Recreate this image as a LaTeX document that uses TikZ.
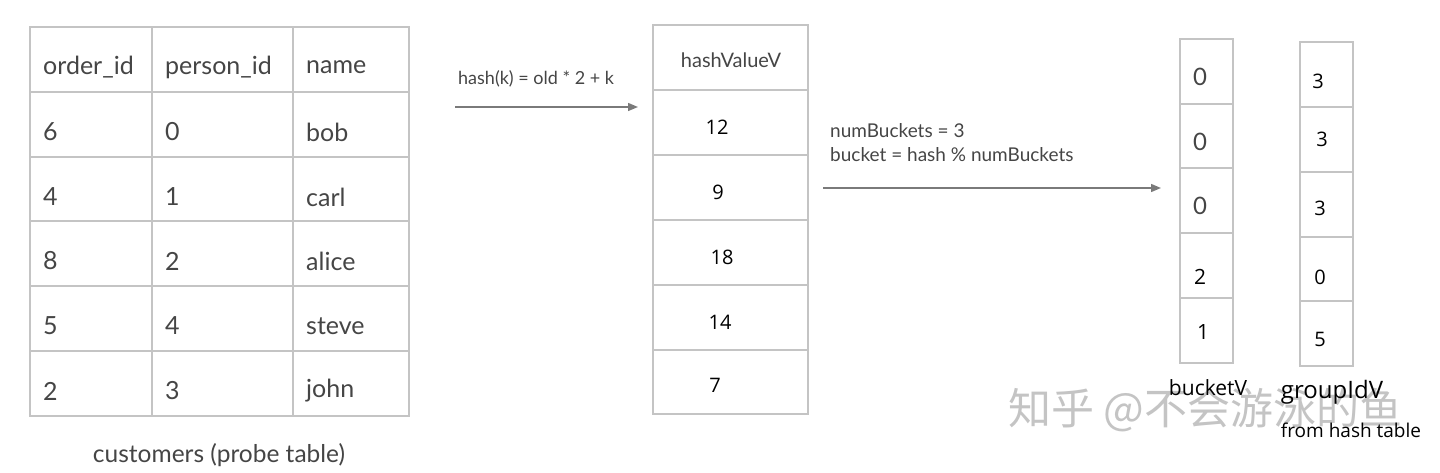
\documentclass[tikz,border=0pt]{standalone}
\usepackage{fontspec}
\setmainfont{Lato}
\newfontfamily\numfont{Open Sans}
\newfontfamily\cjkfont{Noto Sans CJK SC}
\usetikzlibrary{arrows.meta}
\definecolor{gridc}{HTML}{C4C4C4}
\definecolor{txtc}{HTML}{454545}
\definecolor{arrc}{HTML}{7A7A7A}
\definecolor{wmc}{HTML}{C4C4C4}
\tikzset{
  grid/.style={draw=gridc, line width=1.6pt},
  tcell/.style={anchor=west, inner sep=0pt, text=txtc, font=\fontsize{25}{29}\selectfont},
  num/.style={inner sep=0pt, text=black, font=\numfont\fontsize{20}{24}\selectfont},
  bignum/.style={inner sep=0pt, text=txtc, font=\fontsize{24}{27}\selectfont},
  lbl/.style={inner sep=0pt, text=txtc, font=\fontsize{18}{22}\selectfont},
  vlbl/.style={inner sep=0pt, text=black, font=\numfont\fontsize{21}{24}\selectfont},
  arr/.style={draw=arrc, line width=1.4pt, -{Triangle[length=10pt,width=8pt]}},
}
\begin{document}
\begin{tikzpicture}[x=1pt,y=-1pt]
\useasboundingbox (0,0) rectangle (1440,473);
% watermark
\node[anchor=west, inner sep=0pt, text=wmc, font=\cjkfont\fontsize{43}{45}\selectfont] (wm) at (1008,410) {知乎 @不会游泳的鱼};
% customers table grid
\draw[grid] (30,27) rectangle (409,416);
\foreach \yy in {92,157,221,286,351} \draw[grid] (30,\yy) -- (409,\yy);
\foreach \xx in {152,293} \draw[grid] (\xx,27) -- (\xx,416);
% table text
\node[tcell] (h1) at (43,67) {order\_id};
\node[tcell] (h2) at (165,67) {person\_id};
\node[tcell] (h3) at (306,67) {name};
\node[tcell] (a1) at (43,132) {6};
\node[tcell] (a2) at (165,132) {0};
\node[tcell] (a3) at (306,132) {bob};
\node[tcell] (b1) at (43,197) {4};
\node[tcell] (b2) at (165,197) {1};
\node[tcell] (b3) at (306,197) {carl};
\node[tcell] (c1) at (43,261) {8};
\node[tcell] (c2) at (165,261) {2};
\node[tcell] (c3) at (306,261) {alice};
\node[tcell] (d1) at (43,326) {5};
\node[tcell] (d2) at (165,326) {4};
\node[tcell] (d3) at (306,326) {steve};
\node[tcell] (e1) at (43,391) {2};
\node[tcell] (e2) at (165,391) {3};
\node[tcell] (e3) at (306,391) {john};
\node[inner sep=0pt, text=txtc, font=\fontsize{24.5}{28}\selectfont] (cap) at (219,455) {customers (probe table)};
% arrow 1
\coordinate (a1s) at (455,107);
\coordinate (a1e) at (638,107);
\draw[arr] (a1s) -- (a1e);
\node[lbl, anchor=west] (f1) at (458,79) {hash(k) = old * 2 + k};
% hashValueV column
\draw[grid] (653,25) rectangle (808,414);
\foreach \yy in {90,155,220,285,350} \draw[grid] (653,\yy) -- (808,\yy);
\node[inner sep=0pt, text=txtc, font=\fontsize{20}{24}\selectfont] (hv) at (731,60) {hashValueV};
\node[num] (hv1) at (717,127) {12};
\node[num] (hv2) at (718,192) {9};
\node[num] (hv3) at (722,257) {18};
\node[num] (hv4) at (720,322) {14};
\node[num] (hv5) at (715,385) {7};
% arrow 2
\coordinate (a2s) at (823,188);
\coordinate (a2e) at (1161,188);
\draw[arr] (a2s) -- (a2e);
\node[lbl, anchor=west, align=left, font=\fontsize{19}{24}\selectfont] (f2) at (830,143) {numBuckets = 3\\bucket = hash \% numBuckets};
% bucketV column
\draw[grid] (1180,39) rectangle (1233,363);
\foreach \yy in {104,168,233,298} \draw[grid] (1180,\yy) -- (1233,\yy);
\node[bignum] (bv1) at (1200,77) {0};
\node[bignum] (bv2) at (1200,142) {0};
\node[bignum] (bv3) at (1200,206) {0};
\node[num, font=\numfont\fontsize{21}{24}\selectfont] (bv4) at (1200,277) {2};
\node[num, font=\numfont\fontsize{21}{24}\selectfont] (bv5) at (1203,332) {1};
% groupIdV column
\draw[grid] (1300,42) rectangle (1353,366);
\foreach \yy in {107,172,237,301} \draw[grid] (1300,\yy) -- (1353,\yy);
\node[num] (gv1) at (1318,81) {3};
\node[num] (gv2) at (1322,139) {3};
\node[num] (gv3) at (1320,208) {3};
\node[num] (gv4) at (1320,277) {0};
\node[num] (gv5) at (1320,339) {5};
% labels
\node[vlbl] (bl) at (1208,388) {bucketV};
\node[vlbl, font=\numfont\fontsize{24}{26}\selectfont] (gl) at (1332,392) {groupIdV};
\node[vlbl, font=\numfont\fontsize{19}{22}\selectfont] (gl2) at (1351,430) {from hash table};
\end{tikzpicture}
\end{document}
